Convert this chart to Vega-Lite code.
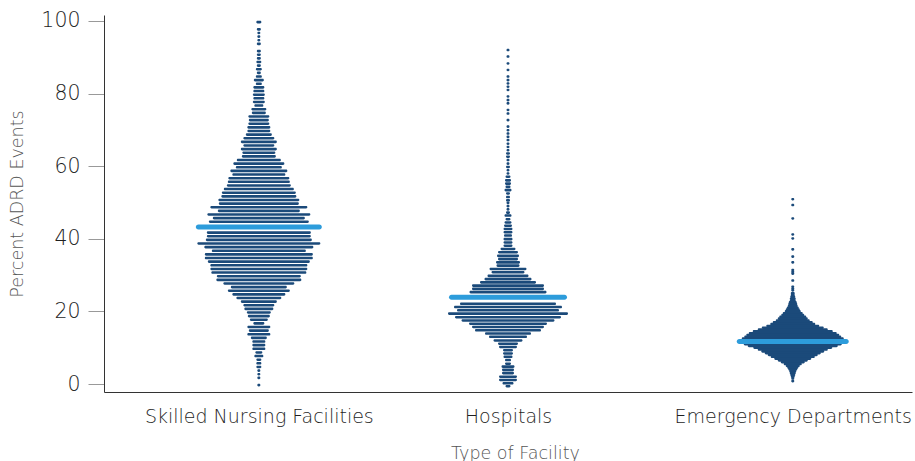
{
  "$schema": "https://vega.github.io/schema/vega-lite/v6.json",
  "width": 808,
  "height": 377,
  "autosize": {"type": "none"},
  "padding": {"left": 104, "top": 15, "right": 3, "bottom": 69},
  "background": "white",
  "config": {"view": {"stroke": null}, "font": "DejaVu Sans"},
  "datasets": {
    "rows": [
      {"facility": "Skilled Nursing Facilities", "percent": 99.7, "count": 5},
      {"facility": "Skilled Nursing Facilities", "percent": 97.7, "count": 4},
      {"facility": "Skilled Nursing Facilities", "percent": 96.7, "count": 3},
      {"facility": "Skilled Nursing Facilities", "percent": 95.7, "count": 3},
      {"facility": "Skilled Nursing Facilities", "percent": 94.7, "count": 3},
      {"facility": "Skilled Nursing Facilities", "percent": 93.7, "count": 4},
      {"facility": "Skilled Nursing Facilities", "percent": 91.7, "count": 4},
      {"facility": "Skilled Nursing Facilities", "percent": 90.7, "count": 4},
      {"facility": "Skilled Nursing Facilities", "percent": 89.7, "count": 4},
      {"facility": "Skilled Nursing Facilities", "percent": 88.7, "count": 5},
      {"facility": "Skilled Nursing Facilities", "percent": 87.7, "count": 4},
      {"facility": "Skilled Nursing Facilities", "percent": 86.7, "count": 6},
      {"facility": "Skilled Nursing Facilities", "percent": 85.7, "count": 4},
      {"facility": "Skilled Nursing Facilities", "percent": 84.7, "count": 6},
      {"facility": "Skilled Nursing Facilities", "percent": 83.7, "count": 10},
      {"facility": "Skilled Nursing Facilities", "percent": 82.7, "count": 6},
      {"facility": "Skilled Nursing Facilities", "percent": 81.7, "count": 11},
      {"facility": "Skilled Nursing Facilities", "percent": 80.7, "count": 11},
      {"facility": "Skilled Nursing Facilities", "percent": 79.7, "count": 12},
      {"facility": "Skilled Nursing Facilities", "percent": 78.7, "count": 11},
      {"facility": "Skilled Nursing Facilities", "percent": 77.7, "count": 12},
      {"facility": "Skilled Nursing Facilities", "percent": 76.7, "count": 9},
      {"facility": "Skilled Nursing Facilities", "percent": 75.7, "count": 15},
      {"facility": "Skilled Nursing Facilities", "percent": 74.7, "count": 14},
      {"facility": "Skilled Nursing Facilities", "percent": 73.7, "count": 21},
      {"facility": "Skilled Nursing Facilities", "percent": 72.7, "count": 20},
      {"facility": "Skilled Nursing Facilities", "percent": 71.7, "count": 21},
      {"facility": "Skilled Nursing Facilities", "percent": 70.7, "count": 23},
      {"facility": "Skilled Nursing Facilities", "percent": 69.7, "count": 23},
      {"facility": "Skilled Nursing Facilities", "percent": 68.7, "count": 26},
      {"facility": "Skilled Nursing Facilities", "percent": 67.7, "count": 31},
      {"facility": "Skilled Nursing Facilities", "percent": 66.7, "count": 36},
      {"facility": "Skilled Nursing Facilities", "percent": 65.7, "count": 31},
      {"facility": "Skilled Nursing Facilities", "percent": 64.7, "count": 36},
      {"facility": "Skilled Nursing Facilities", "percent": 63.7, "count": 33},
      {"facility": "Skilled Nursing Facilities", "percent": 62.7, "count": 34},
      {"facility": "Skilled Nursing Facilities", "percent": 61.7, "count": 44},
      {"facility": "Skilled Nursing Facilities", "percent": 60.7, "count": 51},
      {"facility": "Skilled Nursing Facilities", "percent": 59.7, "count": 46},
      {"facility": "Skilled Nursing Facilities", "percent": 58.7, "count": 57},
      {"facility": "Skilled Nursing Facilities", "percent": 57.7, "count": 53},
      {"facility": "Skilled Nursing Facilities", "percent": 56.7, "count": 61},
      {"facility": "Skilled Nursing Facilities", "percent": 55.7, "count": 62},
      {"facility": "Skilled Nursing Facilities", "percent": 54.7, "count": 64},
      {"facility": "Skilled Nursing Facilities", "percent": 53.7, "count": 70},
      {"facility": "Skilled Nursing Facilities", "percent": 52.7, "count": 74},
      {"facility": "Skilled Nursing Facilities", "percent": 51.7, "count": 75},
      {"facility": "Skilled Nursing Facilities", "percent": 50.7, "count": 81},
      {"facility": "Skilled Nursing Facilities", "percent": 49.7, "count": 80},
      {"facility": "Skilled Nursing Facilities", "percent": 48.7, "count": 97},
      {"facility": "Skilled Nursing Facilities", "percent": 47.7, "count": 82},
      {"facility": "Skilled Nursing Facilities", "percent": 46.7, "count": 103},
      {"facility": "Skilled Nursing Facilities", "percent": 45.7, "count": 92},
      {"facility": "Skilled Nursing Facilities", "percent": 44.7, "count": 100},
      {"facility": "Skilled Nursing Facilities", "percent": 41.7, "count": 104},
      {"facility": "Skilled Nursing Facilities", "percent": 40.7, "count": 104},
      {"facility": "Skilled Nursing Facilities", "percent": 39.7, "count": 106},
      {"facility": "Skilled Nursing Facilities", "percent": 38.7, "count": 123},
      {"facility": "Skilled Nursing Facilities", "percent": 37.7, "count": 109},
      {"facility": "Skilled Nursing Facilities", "percent": 36.7, "count": 94},
      {"facility": "Skilled Nursing Facilities", "percent": 35.7, "count": 108},
      {"facility": "Skilled Nursing Facilities", "percent": 34.7, "count": 108},
      {"facility": "Skilled Nursing Facilities", "percent": 33.7, "count": 102},
      {"facility": "Skilled Nursing Facilities", "percent": 32.7, "count": 97},
      {"facility": "Skilled Nursing Facilities", "percent": 31.7, "count": 97},
      {"facility": "Skilled Nursing Facilities", "percent": 30.7, "count": 95},
      {"facility": "Skilled Nursing Facilities", "percent": 29.7, "count": 84},
      {"facility": "Skilled Nursing Facilities", "percent": 28.7, "count": 85},
      {"facility": "Skilled Nursing Facilities", "percent": 27.7, "count": 71},
      {"facility": "Skilled Nursing Facilities", "percent": 26.7, "count": 56},
      {"facility": "Skilled Nursing Facilities", "percent": 25.7, "count": 62},
      {"facility": "Skilled Nursing Facilities", "percent": 24.7, "count": 53},
      {"facility": "Skilled Nursing Facilities", "percent": 23.7, "count": 45},
      {"facility": "Skilled Nursing Facilities", "percent": 22.7, "count": 36},
      {"facility": "Skilled Nursing Facilities", "percent": 21.7, "count": 31},
      {"facility": "Skilled Nursing Facilities", "percent": 20.7, "count": 29},
      {"facility": "Skilled Nursing Facilities", "percent": 19.7, "count": 24},
      {"facility": "Skilled Nursing Facilities", "percent": 18.7, "count": 22},
      {"facility": "Skilled Nursing Facilities", "percent": 17.7, "count": 18},
      {"facility": "Skilled Nursing Facilities", "percent": 16.7, "count": 11},
      {"facility": "Skilled Nursing Facilities", "percent": 15.7, "count": 23},
      {"facility": "Skilled Nursing Facilities", "percent": 14.7, "count": 20},
      {"facility": "Skilled Nursing Facilities", "percent": 13.7, "count": 23},
      {"facility": "Skilled Nursing Facilities", "percent": 12.7, "count": 16},
      {"facility": "Skilled Nursing Facilities", "percent": 11.7, "count": 13},
      {"facility": "Skilled Nursing Facilities", "percent": 10.7, "count": 13},
      {"facility": "Skilled Nursing Facilities", "percent": 9.7, "count": 13},
      {"facility": "Skilled Nursing Facilities", "percent": 8.7, "count": 7},
      {"facility": "Skilled Nursing Facilities", "percent": 7.7, "count": 9},
      {"facility": "Skilled Nursing Facilities", "percent": 6.7, "count": 5},
      {"facility": "Skilled Nursing Facilities", "percent": 5.7, "count": 5},
      {"facility": "Skilled Nursing Facilities", "percent": 4.7, "count": 5},
      {"facility": "Skilled Nursing Facilities", "percent": 3.7, "count": 3},
      {"facility": "Skilled Nursing Facilities", "percent": 2.7, "count": 3},
      {"facility": "Skilled Nursing Facilities", "percent": 1.7, "count": 3},
      {"facility": "Skilled Nursing Facilities", "percent": -0.3, "count": 3},
      {"facility": "Hospitals", "percent": 92.0, "count": 3},
      {"facility": "Hospitals", "percent": 90.2, "count": 3},
      {"facility": "Hospitals", "percent": 88.3, "count": 3},
      {"facility": "Hospitals", "percent": 86.5, "count": 3},
      {"facility": "Hospitals", "percent": 84.7, "count": 3},
      {"facility": "Hospitals", "percent": 83.7, "count": 3},
      {"facility": "Hospitals", "percent": 82.8, "count": 3},
      {"facility": "Hospitals", "percent": 81.9, "count": 3},
      {"facility": "Hospitals", "percent": 81.0, "count": 3},
      {"facility": "Hospitals", "percent": 79.2, "count": 3},
      {"facility": "Hospitals", "percent": 78.2, "count": 3},
      {"facility": "Hospitals", "percent": 77.3, "count": 3},
      {"facility": "Hospitals", "percent": 75.5, "count": 3},
      {"facility": "Hospitals", "percent": 74.5, "count": 3},
      {"facility": "Hospitals", "percent": 72.7, "count": 3},
      {"facility": "Hospitals", "percent": 70.9, "count": 3},
      {"facility": "Hospitals", "percent": 69.9, "count": 3},
      {"facility": "Hospitals", "percent": 69.0, "count": 3},
      {"facility": "Hospitals", "percent": 68.1, "count": 3},
      {"facility": "Hospitals", "percent": 67.2, "count": 3},
      {"facility": "Hospitals", "percent": 66.2, "count": 3},
      {"facility": "Hospitals", "percent": 65.3, "count": 3},
      {"facility": "Hospitals", "percent": 64.4, "count": 3},
      {"facility": "Hospitals", "percent": 63.5, "count": 4},
      {"facility": "Hospitals", "percent": 62.6, "count": 4},
      {"facility": "Hospitals", "percent": 61.7, "count": 3},
      {"facility": "Hospitals", "percent": 60.7, "count": 3},
      {"facility": "Hospitals", "percent": 59.8, "count": 4},
      {"facility": "Hospitals", "percent": 58.9, "count": 3},
      {"facility": "Hospitals", "percent": 58.0, "count": 3},
      {"facility": "Hospitals", "percent": 57.1, "count": 5},
      {"facility": "Hospitals", "percent": 56.1, "count": 6},
      {"facility": "Hospitals", "percent": 55.2, "count": 6},
      {"facility": "Hospitals", "percent": 54.3, "count": 5},
      {"facility": "Hospitals", "percent": 53.4, "count": 7},
      {"facility": "Hospitals", "percent": 52.5, "count": 4},
      {"facility": "Hospitals", "percent": 51.5, "count": 4},
      {"facility": "Hospitals", "percent": 50.6, "count": 4},
      {"facility": "Hospitals", "percent": 49.9, "count": 3},
      {"facility": "Hospitals", "percent": 49.0, "count": 3},
      {"facility": "Hospitals", "percent": 48.1, "count": 3},
      {"facility": "Hospitals", "percent": 47.2, "count": 4},
      {"facility": "Hospitals", "percent": 46.4, "count": 7},
      {"facility": "Hospitals", "percent": 45.4, "count": 5},
      {"facility": "Hospitals", "percent": 44.5, "count": 7},
      {"facility": "Hospitals", "percent": 43.6, "count": 8},
      {"facility": "Hospitals", "percent": 42.7, "count": 9},
      {"facility": "Hospitals", "percent": 41.8, "count": 9},
      {"facility": "Hospitals", "percent": 40.9, "count": 8},
      {"facility": "Hospitals", "percent": 39.9, "count": 9},
      {"facility": "Hospitals", "percent": 39.0, "count": 9},
      {"facility": "Hospitals", "percent": 38.1, "count": 9},
      {"facility": "Hospitals", "percent": 37.2, "count": 15},
      {"facility": "Hospitals", "percent": 36.3, "count": 20},
      {"facility": "Hospitals", "percent": 35.3, "count": 22},
      {"facility": "Hospitals", "percent": 34.4, "count": 20},
      {"facility": "Hospitals", "percent": 33.5, "count": 24},
      {"facility": "Hospitals", "percent": 32.6, "count": 23},
      {"facility": "Hospitals", "percent": 31.7, "count": 37},
      {"facility": "Hospitals", "percent": 30.8, "count": 33},
      {"facility": "Hospitals", "percent": 29.8, "count": 41},
      {"facility": "Hospitals", "percent": 28.9, "count": 47},
      {"facility": "Hospitals", "percent": 28.0, "count": 56},
      {"facility": "Hospitals", "percent": 27.1, "count": 72},
      {"facility": "Hospitals", "percent": 26.2, "count": 72},
      {"facility": "Hospitals", "percent": 25.3, "count": 77},
      {"facility": "Hospitals", "percent": 22.1, "count": 96},
      {"facility": "Hospitals", "percent": 21.2, "count": 108},
      {"facility": "Hospitals", "percent": 20.3, "count": 102},
      {"facility": "Hospitals", "percent": 19.4, "count": 120},
      {"facility": "Hospitals", "percent": 18.4, "count": 106},
      {"facility": "Hospitals", "percent": 17.5, "count": 93},
      {"facility": "Hospitals", "percent": 16.6, "count": 78},
      {"facility": "Hospitals", "percent": 15.7, "count": 72},
      {"facility": "Hospitals", "percent": 14.8, "count": 66},
      {"facility": "Hospitals", "percent": 13.9, "count": 46},
      {"facility": "Hospitals", "percent": 13.0, "count": 38},
      {"facility": "Hospitals", "percent": 12.0, "count": 29},
      {"facility": "Hospitals", "percent": 11.1, "count": 20},
      {"facility": "Hospitals", "percent": 10.2, "count": 18},
      {"facility": "Hospitals", "percent": 9.3, "count": 10},
      {"facility": "Hospitals", "percent": 8.4, "count": 10},
      {"facility": "Hospitals", "percent": 7.5, "count": 9},
      {"facility": "Hospitals", "percent": 6.6, "count": 6},
      {"facility": "Hospitals", "percent": 5.6, "count": 6},
      {"facility": "Hospitals", "percent": 4.8, "count": 13},
      {"facility": "Hospitals", "percent": 3.9, "count": 12},
      {"facility": "Hospitals", "percent": 3.0, "count": 12},
      {"facility": "Hospitals", "percent": 2.0, "count": 18},
      {"facility": "Hospitals", "percent": 1.1, "count": 18},
      {"facility": "Hospitals", "percent": 0.2, "count": 11},
      {"facility": "Hospitals", "percent": -0.6, "count": 5},
      {"facility": "Emergency Departments", "percent": 50.9, "count": 3},
      {"facility": "Emergency Departments", "percent": 49.3, "count": 3},
      {"facility": "Emergency Departments", "percent": 45.6, "count": 3},
      {"facility": "Emergency Departments", "percent": 41.2, "count": 3},
      {"facility": "Emergency Departments", "percent": 40.1, "count": 3},
      {"facility": "Emergency Departments", "percent": 37.1, "count": 3},
      {"facility": "Emergency Departments", "percent": 35.1, "count": 3},
      {"facility": "Emergency Departments", "percent": 33.5, "count": 3},
      {"facility": "Emergency Departments", "percent": 31.4, "count": 3},
      {"facility": "Emergency Departments", "percent": 30.9, "count": 3},
      {"facility": "Emergency Departments", "percent": 30.4, "count": 3},
      {"facility": "Emergency Departments", "percent": 28.5, "count": 3},
      {"facility": "Emergency Departments", "percent": 26.8, "count": 3},
      {"facility": "Emergency Departments", "percent": 26.3, "count": 3},
      {"facility": "Emergency Departments", "percent": 25.8, "count": 3},
      {"facility": "Emergency Departments", "percent": 25.0, "count": 4},
      {"facility": "Emergency Departments", "percent": 24.5, "count": 4},
      {"facility": "Emergency Departments", "percent": 24.0, "count": 5},
      {"facility": "Emergency Departments", "percent": 23.5, "count": 6},
      {"facility": "Emergency Departments", "percent": 23.0, "count": 6},
      {"facility": "Emergency Departments", "percent": 22.5, "count": 8},
      {"facility": "Emergency Departments", "percent": 22.0, "count": 9},
      {"facility": "Emergency Departments", "percent": 21.5, "count": 10},
      {"facility": "Emergency Departments", "percent": 21.0, "count": 12},
      {"facility": "Emergency Departments", "percent": 20.5, "count": 14},
      {"facility": "Emergency Departments", "percent": 20.0, "count": 16},
      {"facility": "Emergency Departments", "percent": 19.5, "count": 20},
      {"facility": "Emergency Departments", "percent": 19.0, "count": 23},
      {"facility": "Emergency Departments", "percent": 18.5, "count": 27},
      {"facility": "Emergency Departments", "percent": 18.0, "count": 30},
      {"facility": "Emergency Departments", "percent": 17.5, "count": 34},
      {"facility": "Emergency Departments", "percent": 17.0, "count": 40},
      {"facility": "Emergency Departments", "percent": 16.5, "count": 45},
      {"facility": "Emergency Departments", "percent": 16.0, "count": 53},
      {"facility": "Emergency Departments", "percent": 15.5, "count": 62},
      {"facility": "Emergency Departments", "percent": 15.0, "count": 70},
      {"facility": "Emergency Departments", "percent": 14.5, "count": 80},
      {"facility": "Emergency Departments", "percent": 14.0, "count": 88},
      {"facility": "Emergency Departments", "percent": 13.5, "count": 93},
      {"facility": "Emergency Departments", "percent": 13.0, "count": 97},
      {"facility": "Emergency Departments", "percent": 12.5, "count": 102},
      {"facility": "Emergency Departments", "percent": 12.0, "count": 106},
      {"facility": "Emergency Departments", "percent": 11.5, "count": 104},
      {"facility": "Emergency Departments", "percent": 11.0, "count": 98},
      {"facility": "Emergency Departments", "percent": 10.5, "count": 90},
      {"facility": "Emergency Departments", "percent": 10.0, "count": 79},
      {"facility": "Emergency Departments", "percent": 9.5, "count": 70},
      {"facility": "Emergency Departments", "percent": 9.0, "count": 63},
      {"facility": "Emergency Departments", "percent": 8.5, "count": 56},
      {"facility": "Emergency Departments", "percent": 8.0, "count": 50},
      {"facility": "Emergency Departments", "percent": 7.5, "count": 44},
      {"facility": "Emergency Departments", "percent": 7.0, "count": 37},
      {"facility": "Emergency Departments", "percent": 6.5, "count": 30},
      {"facility": "Emergency Departments", "percent": 6.0, "count": 24},
      {"facility": "Emergency Departments", "percent": 5.5, "count": 18},
      {"facility": "Emergency Departments", "percent": 5.0, "count": 14},
      {"facility": "Emergency Departments", "percent": 4.5, "count": 11},
      {"facility": "Emergency Departments", "percent": 4.0, "count": 9},
      {"facility": "Emergency Departments", "percent": 3.5, "count": 7},
      {"facility": "Emergency Departments", "percent": 3.0, "count": 6},
      {"facility": "Emergency Departments", "percent": 2.5, "count": 5},
      {"facility": "Emergency Departments", "percent": 2.0, "count": 4},
      {"facility": "Emergency Departments", "percent": 1.5, "count": 3},
      {"facility": "Emergency Departments", "percent": 0.8, "count": 3}
    ],
    "medians": [
      {"facility": "Skilled Nursing Facilities", "percent": 43.25, "count": 126},
      {"facility": "Hospitals", "percent": 23.9, "count": 118},
      {"facility": "Emergency Departments", "percent": 11.7, "count": 112}
    ]
  },
  "layer": [
    {
      "data": {"name": "rows"},
      "mark": {"type": "tick", "orient": "horizontal", "thickness": 2.6, "cornerRadius": 1.2, "color": "#1b4a7a", "opacity": 1},
      "encoding": {
        "x": {
          "field": "facility", "type": "nominal",
          "scale": {"type": "point", "padding": 0.35, "domain": ["_0", "_1", "_2", "_3", "Skilled Nursing Facilities", "_5", "_6", "_7", "_8", "_9", "_10", "Hospitals", "_12", "_13", "_14", "_15", "_16", "_17", "_18", "Emergency Departments", "_20", "_21", "_22"]},
          "axis": {"title": "Type of Facility", "ticks": false, "tickSize": 0, "labelAngle": 0, "labelPadding": 15, "labelFontSize": 19, "labelFontWeight": 300, "labelLimit": 500, "labelColor": "#1e1e1e", "labelExpr": "indexof(datum.value, '_') == 0 ? '' : datum.label", "labelOverlap": false, "labelBound": false, "domainColor": "#333333", "domainWidth": 1, "titleFontSize": 17.5, "titleColor": "#555555", "titleFontWeight": 300, "titlePadding": 18, "titleX": 411, "grid": false}
        },
        "y": {
          "field": "percent", "type": "quantitative",
          "scale": {"domain": [-2.2, 101.65], "nice": false, "zero": false},
          "axis": {"title": "Percent ADRD Events", "values": [0, 20, 40, 60, 80, 100], "grid": false, "domainColor": "#333333", "domainWidth": 1, "tickColor": "#999999", "tickSize": 16, "labelPadding": 8, "labelFontSize": 20.5, "labelFontWeight": 300, "labelColor": "#1e1e1e", "titleFontSize": 17.5, "titleColor": "#555555", "titleFontWeight": 300, "titlePadding": 14}
        },
        "size": {"field": "count", "type": "quantitative", "scale": {"type": "linear", "domain": [0, 130], "range": [0, 130]}, "legend": null}
      }
    },
    {
      "data": {"name": "medians"},
      "mark": {"type": "tick", "orient": "horizontal", "thickness": 5, "cornerRadius": 2.5, "color": "#2d9cdb", "opacity": 1},
      "encoding": {
        "x": {"field": "facility", "type": "nominal"},
        "y": {"field": "percent", "type": "quantitative"},
        "size": {"field": "count", "type": "quantitative", "legend": null}
      }
    }
  ]
}
